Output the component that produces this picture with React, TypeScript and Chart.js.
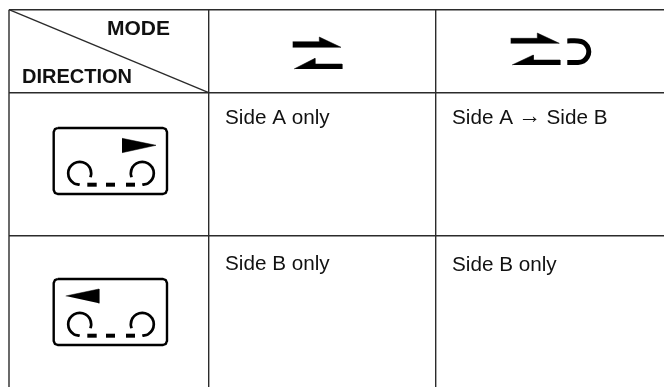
import React, { useEffect, useRef } from "react";
import { Chart, registerables } from "chart.js";

Chart.register(...registerables);

type P = [number, number];

const gridColumns = [9, 208.7, 435.7];
const gridRows = [9.7, 92.7, 235.7];
const tableRight = 664;
const tableBottom = 387;
const diagonal: P[] = [[9, 9.7], [208.7, 92.7]];

const headerLabels = ["MODE", "DIRECTION"];
const headerPositions: P[] = [[107, 34.7], [22, 83.3]];
const headerSizes = [21, 20];
const cellLabels = ["Side A only", "Side A", "\u2192", "Side B", "Side B only", "Side B only"];
const cellPositions: P[] = [[225, 123.5], [452, 123.5], [518, 122.5], [546.5, 123.5], [225, 270], [452, 271]];
const cellSizes = [20.7, 20.7, 23, 20.7, 20.7, 20.7];

const arrowsCol2: P[][] = [
  [[292.7, 41.7], [319.3, 41.7], [319.3, 37], [341, 47.3], [292.7, 47.3]],
  [[294, 69], [315, 58.3], [315, 64], [342, 64], [342, 69]],
];
const arrowsCol3: P[][] = [
  [[510.7, 38.3], [537.3, 38.3], [537.3, 33], [559.3, 43.3], [510.7, 43.3]],
  [[512, 65], [533.3, 55], [533.3, 60], [560, 60], [560, 65]],
];
const hook: P[] = [
  [567.3, 40.9], [578, 40.9], [583.4, 42.3], [587.3, 46.3], [588.8, 51.7],
  [587.3, 57.1], [583.4, 61.1], [578, 62.5], [567.3, 62.5],
];

const cassetteOutline: P[] = [
  [57.7, 128], [163, 128], [165.8, 129.2], [167, 132], [167, 190], [165.8, 192.8], [163, 194],
  [57.7, 194], [54.9, 192.8], [53.7, 190], [53.7, 132], [54.9, 129.2], [57.7, 128],
];
const leftReel: P[] = [
  [90.5, 177.2], [91.2, 173.3], [89.7, 167.5], [85.5, 163.3], [79.7, 161.8], [74, 163.3], [69.7, 167.5],
  [68.2, 173.3], [69.7, 179], [74, 183.3], [79.7, 184.8],
];
const rightReel: P[] = [
  [131.5, 177.2], [130.8, 173.3], [132.3, 167.5], [136.5, 163.3], [142.3, 161.8], [148, 163.3], [152.3, 167.5],
  [153.8, 173.3], [152.3, 179], [148, 183.3], [142.3, 184.8],
];
const tapeDashes: P[][] = [
  [[87.3, 184.7], [96.7, 184.7]],
  [[106, 184.7], [115, 184.7]],
  [[126, 184.7], [135, 184.7]],
];
const forwardPlay: P[] = [[122, 138.3], [156, 145.3], [122, 152.7]];
const reversePlay: P[] = [[65.7, 296], [99, 289], [99, 303.3]];
const secondIconOffset = 151;

const toXY = (pts: P[], dy = 0) => pts.map(([x, y]) => ({ x, y: y + dy }));

const gridLine = (pts: P[]) => ({
  data: toXY(pts),
  borderColor: "#2b2b2b",
  borderWidth: 1.4,
  pointRadius: 0,
  showLine: true,
  tension: 0,
  fill: false,
});
const poly = (pts: P[]) => ({
  data: toXY(pts),
  borderColor: "#000",
  backgroundColor: "#000",
  borderWidth: 0.5,
  pointRadius: 0,
  showLine: true,
  tension: 0,
  fill: "shape",
});
const stroke = (pts: P[], width: number, dy = 0, tension = 0, cap: CanvasLineCap = "butt") => ({
  data: toXY(pts, dy),
  borderColor: "#000",
  borderWidth: width,
  borderCapStyle: cap,
  borderJoinStyle: "round",
  pointRadius: 0,
  showLine: true,
  tension,
  fill: false,
});

const tableText = {
  id: "tableText",
  afterDatasetsDraw(chart: any) {
    const { ctx, scales } = chart;
    ctx.save();
    ctx.textBaseline = "alphabetic";
    ctx.textAlign = "left";
    ctx.fillStyle = "#111";
    headerLabels.forEach((t, i) => {
      ctx.font = `bold ${headerSizes[i]}px 'Liberation Sans'`;
      ctx.fillText(t, scales.x.getPixelForValue(headerPositions[i][0]), scales.y.getPixelForValue(headerPositions[i][1]));
    });
    cellLabels.forEach((t, i) => {
      ctx.font = `${cellSizes[i]}px 'Liberation Sans'`;
      ctx.fillText(t, scales.x.getPixelForValue(cellPositions[i][0]), scales.y.getPixelForValue(cellPositions[i][1]));
    });
    ctx.restore();
  },
};

export default function App() {
  const ref = useRef<HTMLCanvasElement>(null);
  useEffect(() => {
    if (!ref.current) return;
    const iconSets = [0, secondIconOffset].flatMap((dy) => [
      stroke(cassetteOutline, 2.4, dy),
      stroke(leftReel, 2.7, dy, 0.35),
      stroke(rightReel, 2.7, dy, 0.35),
      ...tapeDashes.map((d) => stroke(d, 4, dy)),
    ]);
    const chart = new Chart(ref.current, {
      type: "scatter",
      data: {
        datasets: [
          ...gridColumns.map((x) => gridLine([[x, gridRows[0]], [x, tableBottom]])),
          ...gridRows.map((y) => gridLine([[gridColumns[0], y], [tableRight, y]])),
          gridLine(diagonal),
          ...arrowsCol2.map(poly),
          ...arrowsCol3.map(poly),
          stroke(hook, 5, 0, 0.3),
          ...iconSets,
          poly(forwardPlay),
          poly(reversePlay),
        ] as any,
      },
      options: {
        animation: false,
        responsive: false,
        layout: { padding: 0 },
        plugins: { legend: { display: false }, tooltip: { enabled: false } },
        scales: {
          x: { type: "linear", display: false, min: 0, max: 664 },
          y: { type: "linear", display: false, min: 0, max: 387, reverse: true },
        },
      },
      plugins: [tableText],
    });
    return () => chart.destroy();
  }, []);
  return (
    <canvas
      ref={ref}
      width={664}
      height={387}
      style={{ position: "fixed", left: 0, top: 0, width: 664, height: 387, display: "block", background: "#fff" }}
    />
  );
}
